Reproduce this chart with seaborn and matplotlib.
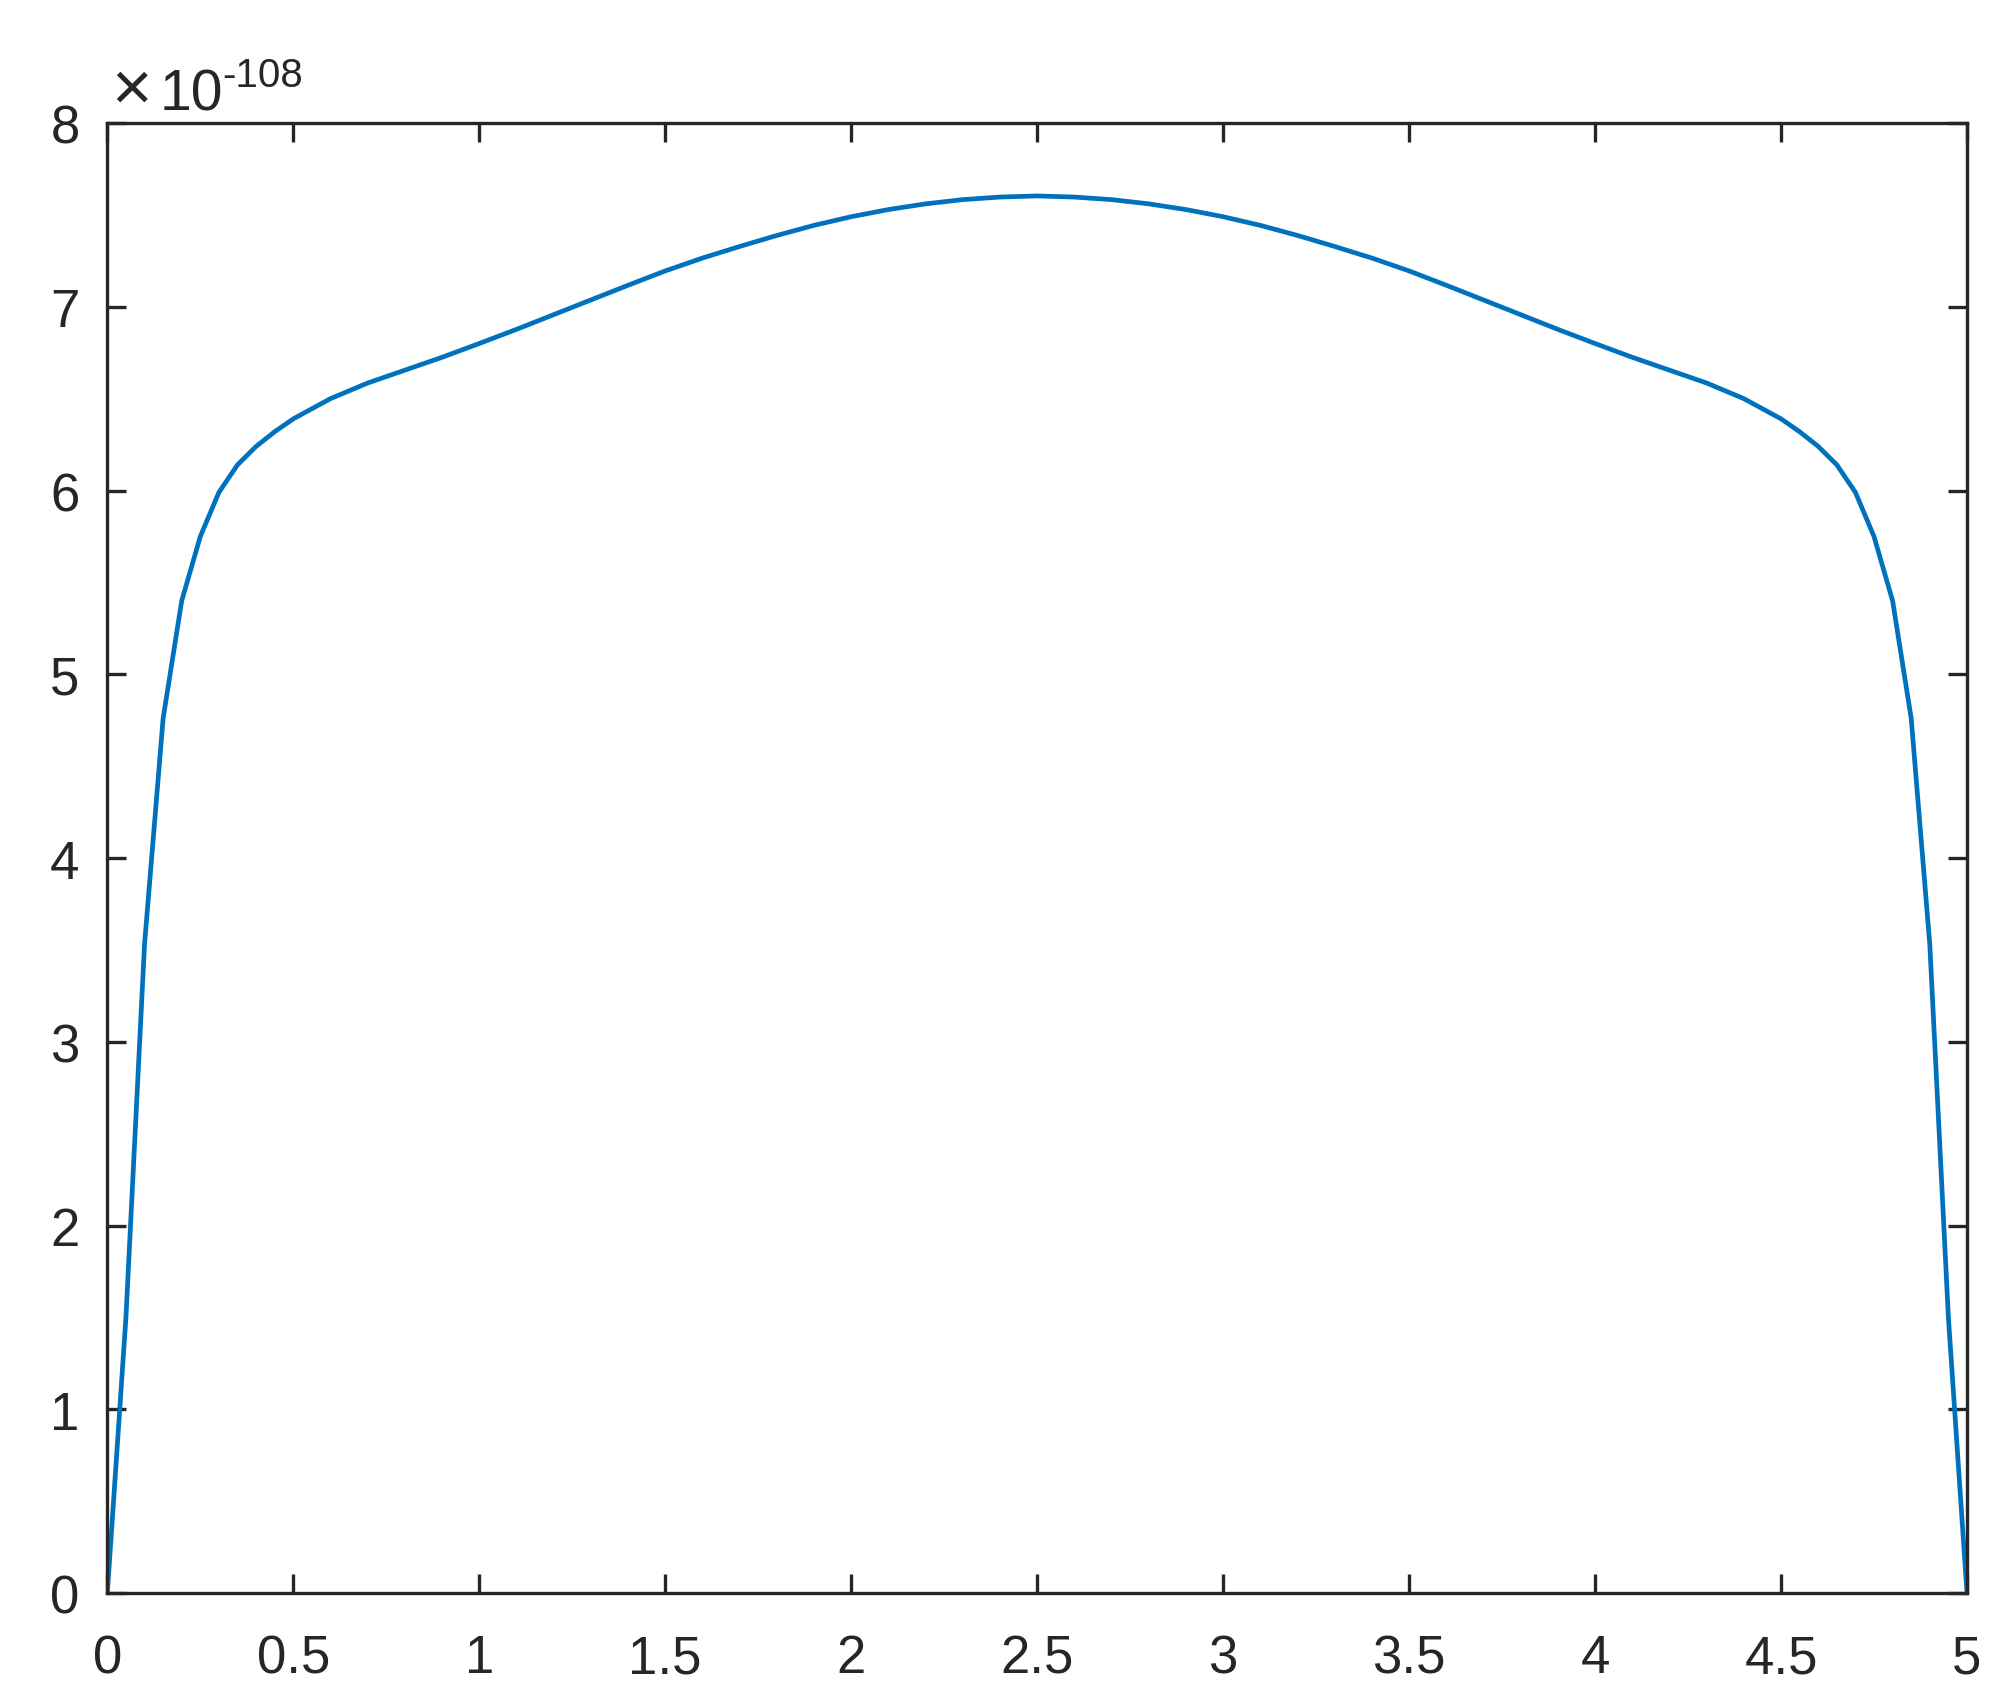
import seaborn as sns
import matplotlib.pyplot as plt

# curve values, y in units of 1e-108
x_vals = [0, 0.05, 0.1, 0.15, 0.2, 0.25, 0.3, 0.35, 0.4, 0.45, 0.5,
          0.6, 0.7, 0.8, 0.9, 1.0, 1.1, 1.2, 1.3, 1.4, 1.5,
          1.6, 1.7, 1.8, 1.9, 2.0, 2.1, 2.2, 2.3, 2.4, 2.5,
          2.6, 2.7, 2.8, 2.9, 3.0, 3.1, 3.2, 3.3, 3.4, 3.5,
          3.6, 3.7, 3.8, 3.9, 4.0, 4.1, 4.2, 4.3, 4.4, 4.5,
          4.55, 4.6, 4.65, 4.7, 4.75, 4.8, 4.85, 4.9, 4.95, 5.0]
y_vals = [0, 1.50, 3.53, 4.76, 5.40, 5.75, 5.99, 6.14, 6.24, 6.32, 6.39,
          6.50, 6.585, 6.655, 6.725, 6.80, 6.877, 6.957, 7.037, 7.117, 7.195,
          7.265, 7.328, 7.388, 7.443, 7.49, 7.529, 7.56, 7.583, 7.597, 7.603,
          7.597, 7.583, 7.56, 7.529, 7.49, 7.443, 7.388, 7.328, 7.265, 7.195,
          7.117, 7.037, 6.957, 6.877, 6.80, 6.725, 6.655, 6.585, 6.50, 6.39,
          6.32, 6.24, 6.14, 5.99, 5.75, 5.40, 4.76, 3.53, 1.50, 0]
exponent = "-108"

x_ticks = [0, 0.5, 1, 1.5, 2, 2.5, 3, 3.5, 4, 4.5, 5]
x_labels = ["0", "0.5", "1", "1.5", "2", "2.5", "3", "3.5", "4", "4.5", "5"]
y_ticks = [0, 1, 2, 3, 4, 5, 6, 7, 8]

sns.set_style("ticks")
plt.rcParams['font.family'] = ['Liberation Sans', 'DejaVu Sans']

dark = "#262626"
fig = plt.figure(figsize=(10.05, 8.54), dpi=200)
ax = fig.add_axes([0.0534, 0.0667, 0.9252, 0.8607])

sns.lineplot(x=x_vals, y=y_vals, ax=ax, color="#0072BD", linewidth=1.7)

ax.set_xlim(0, 5)
ax.set_ylim(0, 8)
ax.set_xticks(x_ticks)
ax.set_xticklabels(x_labels)
ax.set_yticks(y_ticks)
ax.tick_params(direction="in", length=7, width=1.2, colors=dark,
               labelsize=19, top=True, right=True)
ax.tick_params(axis="x", pad=14.5)
ax.tick_params(axis="y", pad=10)
for s in ax.spines.values():
    s.set_visible(True)
    s.set_color(dark)
    s.set_linewidth(1.2)

# exponent label like the original
ax.text(0.002, 1.0095, "\u00d7", transform=ax.transAxes, fontsize=25,
        color=dark, ha="left", va="baseline")
ax.text(0.0283, 1.0095, "10", transform=ax.transAxes, fontsize=20.5,
        color=dark, ha="left", va="baseline")
ax.text(0.0617, 1.0252, exponent, transform=ax.transAxes, fontsize=14.5,
        color=dark, ha="left", va="baseline")

fig.savefig("out.png", dpi=200, facecolor="white")
